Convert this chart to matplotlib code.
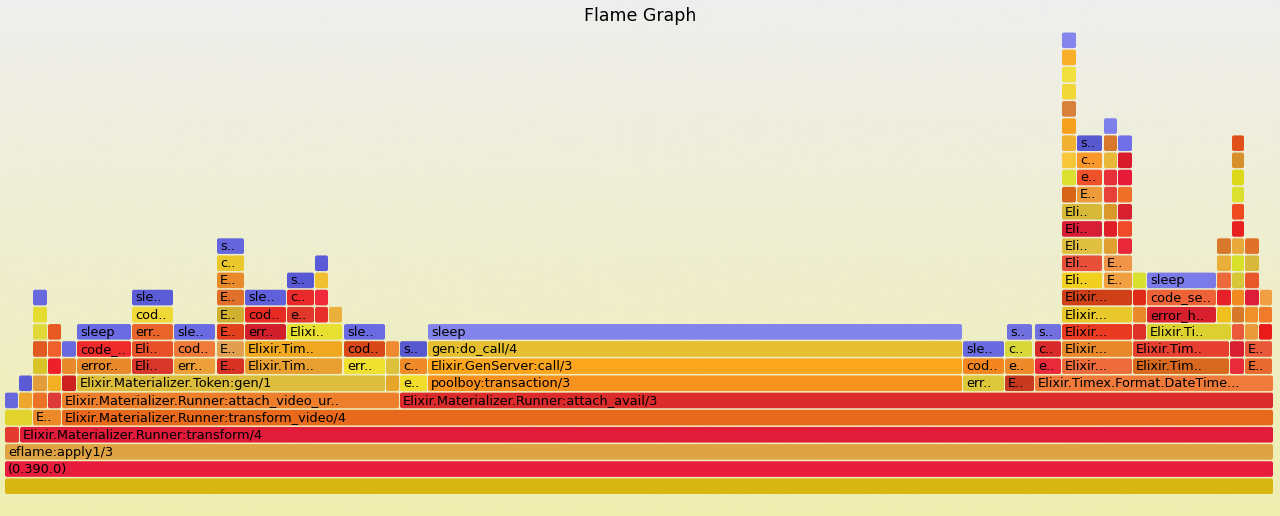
import numpy as np
import matplotlib.pyplot as plt
from matplotlib.patches import FancyBboxPatch
from matplotlib.colors import LinearSegmentedColormap

# stack frames per depth: (start sample, end sample, label as shown)
d00 = [(0, 1269, "")]
d01 = [(0, 1269, "(0.390.0)")]
d02 = [(0, 1269, "eflame:apply1/3")]
d03 = [(0, 15, ""), (15, 1269, "Elixir.Materializer.Runner:transform/4")]
d04 = [(0, 28, ""), (28, 57, "E.."), (57, 1269, "Elixir.Materializer.Runner:transform_video/4")]
d05 = [(0, 14, ""), (14, 28, ""), (28, 43, ""), (43, 57, ""),
       (57, 395, "Elixir.Materializer.Runner:attach_video_ur.."),
       (395, 1269, "Elixir.Materializer.Runner:attach_avail/3")]
d06 = [(14, 28, ""), (28, 43, ""), (43, 57, ""), (57, 72, ""),
       (72, 381, "Elixir.Materializer.Token:gen/1"), (381, 395, ""), (395, 423, "e.."),
       (423, 958, "poolboy:transaction/3"), (958, 1000, "err.."), (1000, 1030, "E.."),
       (1030, 1269, "Elixir.Timex.Format.DateTime...")]
d07 = [(28, 43, ""), (43, 57, ""), (57, 72, ""), (72, 127, "error.."), (127, 169, "Eli.."),
       (169, 211, "err.."), (212, 240, "E.."), (240, 338, "Elixir.Tim.."), (339, 381, "err.."),
       (381, 395, ""), (395, 423, "c.."), (423, 958, "Elixir.GenServer:call/3"),
       (958, 1000, "cod.."), (1000, 1030, "e.."), (1030, 1057, "e.."), (1057, 1128, "Elixir..."),
       (1128, 1225, "Elixir.Tim.."), (1225, 1240, ""), (1240, 1268, "E..")]
d08 = [(28, 43, ""), (43, 57, ""), (57, 72, ""), (72, 127, "code_.."), (127, 169, "Eli.."),
       (169, 211, "cod.."), (212, 240, "E.."), (240, 338, "Elixir.Tim.."), (339, 381, "cod.."),
       (381, 395, ""), (395, 423, "s.."), (423, 958, "gen:do_call/4"),
       (958, 1000, "sle.."), (1000, 1028, "c.."), (1030, 1057, "c.."), (1057, 1128, "Elixir..."),
       (1128, 1225, "Elixir.Tim.."), (1225, 1240, ""), (1240, 1268, "E..")]
d09 = [(28, 43, ""), (43, 57, ""), (72, 127, "sleep"), (127, 169, "err.."), (169, 211, "sle.."),
       (212, 240, "E.."), (240, 282, "err.."), (282, 338, "Elixi.."), (339, 381, "sle.."),
       (423, 958, "sleep"), (1002, 1028, "s.."), (1030, 1057, "s.."), (1057, 1128, "Elixir..."),
       (1128, 1142, ""), (1142, 1227, "Elixir.Ti.."), (1227, 1240, ""), (1240, 1254, ""),
       (1254, 1268, "")]
d10 = [(28, 43, ""), (127, 169, "cod.."), (212, 240, "E.."), (240, 282, "cod.."), (282, 310, "e.."),
       (310, 324, ""), (324, 338, ""), (1057, 1128, "Elixir..."), (1128, 1142, ""),
       (1142, 1212, "error_h.."), (1212, 1227, ""), (1227, 1240, ""), (1240, 1254, ""),
       (1254, 1268, "")]
d11 = [(28, 43, ""), (127, 169, "sle.."), (212, 240, "E.."), (240, 282, "sle.."), (282, 310, "c.."),
       (310, 324, ""), (1057, 1128, "Elixir..."), (1128, 1142, ""), (1142, 1212, "code_se.."),
       (1212, 1227, ""), (1227, 1240, ""), (1240, 1255, ""), (1255, 1268, "")]
d12 = [(212, 240, "E.."), (282, 310, "s.."), (310, 324, ""), (1057, 1098, "Eli.."), (1099, 1128, "E.."),
       (1128, 1142, ""), (1142, 1212, "sleep"), (1212, 1227, ""), (1227, 1240, ""), (1240, 1255, "")]
d13 = [(212, 240, "c.."), (310, 324, ""), (1057, 1098, "Eli.."), (1099, 1128, "E.."),
       (1212, 1227, ""), (1227, 1240, ""), (1240, 1255, "")]
d14 = [(212, 240, "s.."), (1057, 1098, "Eli.."), (1099, 1113, ""), (1113, 1128, ""),
       (1212, 1227, ""), (1227, 1240, ""), (1240, 1255, "")]
d15 = [(1057, 1098, "Eli.."), (1099, 1113, ""), (1113, 1128, ""), (1227, 1240, "")]
d16 = [(1057, 1098, "Eli.."), (1099, 1113, ""), (1113, 1128, ""), (1227, 1240, "")]
d17 = [(1057, 1072, ""), (1072, 1098, "E.."), (1099, 1113, ""), (1113, 1128, ""), (1227, 1240, "")]
d18 = [(1057, 1072, ""), (1072, 1098, "e.."), (1099, 1113, ""), (1113, 1128, ""), (1227, 1240, "")]
d19 = [(1057, 1072, ""), (1072, 1098, "c.."), (1099, 1113, ""), (1113, 1128, ""), (1227, 1240, "")]
d20 = [(1057, 1072, ""), (1072, 1098, "s.."), (1099, 1113, ""), (1113, 1128, ""), (1227, 1240, "")]
d21 = [(1057, 1072, ""), (1099, 1113, "")]
d22 = [(1057, 1072, "")]
d23 = [(1057, 1072, "")]
d24 = [(1057, 1072, "")]
d25 = [(1057, 1072, "")]
d26 = [(1057, 1072, "")]

# fill colour of each frame, same order as above
f00 = ["#d8b612"]
f01 = ["#e81c3c"]
f02 = ["#e0a343"]
f03 = ["#e43a30", "#e01c3a"]
f04 = ["#e2d42c", "#ec8a2a", "#e8691c"]
f05 = ["#6868dd", "#eea72c", "#ea7328", "#de3a3a", "#ed7f2c", "#dc2b2b"]
f06 = ["#5b5bd6", "#e39c3c", "#f4b022", "#cf2020", "#dcbe3c", "#e6a62a", "#f2dc2c",
       "#f7921f", "#dcc83a", "#c83a1f", "#f07a3a"]
f07 = ["#d8c428", "#f0202a", "#e8892c", "#e98a2a", "#d8362a", "#eda03a", "#d83224", "#e9a030",
       "#f0e030", "#dcc23a", "#f08a28", "#fba61c", "#f3861e", "#ef8a2a", "#e82a3a", "#ee6b3b",
       "#d8681e", "#e82a3a", "#e86a30"]
f08 = ["#e05a22", "#f0602e", "#6a6ae0", "#ee2a2a", "#e8502a", "#f07a3a", "#e0a050", "#f0a820",
       "#d84818", "#f08a30", "#5858d0", "#e6bf30", "#6a6ae0", "#d8d83a", "#d82a2a", "#e8882a",
       "#e84030", "#d81e30", "#e8583a"]
f09 = ["#e0d838", "#e85a22", "#6a6ae2", "#e8642a", "#6a6ae2", "#e0401c", "#d01e2a", "#e8e030",
       "#6a6ae2", "#8383ec", "#7070e0", "#7070e0", "#ea3a22", "#e0302a", "#dcd030", "#ea5a3a",
       "#ea9a3a", "#e81a1a"]
f10 = ["#e4dc30", "#f0d838", "#d0b030", "#e82a24", "#e0382a", "#e8302a", "#eab03a", "#e8c82a",
       "#e88a2a", "#d8202e", "#f0c020", "#d8782a", "#f0902a", "#ee7a2a"]
f11 = ["#6868de", "#5c5cd8", "#e0702a", "#6060dc", "#e82a2a", "#f02a3a", "#d04018", "#e02a1a",
       "#ee6238", "#e82028", "#f28a22", "#dc1e3a", "#f0a040"]
f12 = ["#e88a2a", "#5858d4", "#f0c030", "#f2d020", "#f0a040", "#d8e030", "#7a7ae8", "#ec6a3a",
       "#d8c838", "#e8582a"]
f13 = ["#e8c82a", "#5a5ad8", "#e8503a", "#ef9448", "#e8b03a", "#d8e02a", "#d8b83a"]
f14 = ["#6666dc", "#e0c040", "#e0a030", "#e8283a", "#d8782a", "#e8a83a", "#e0702a"]
f15 = ["#d81e36", "#e01e2a", "#f04a2a", "#e82020"]
f16 = ["#d8b838", "#d8982a", "#d82030", "#ee4a20"]
f17 = ["#d8641a", "#ec9a3a", "#e8403a", "#f0702a", "#dce030"]
f18 = ["#dce030", "#f0502a", "#e8303a", "#e81a3a", "#dcd81a"]
f19 = ["#f8c83a", "#f8982a", "#e8b838", "#d81a2a", "#d8902a"]
f20 = ["#f0b030", "#5858d0", "#d8782a", "#7070e8", "#e0501a"]
f21 = ["#f8a020", "#8080ec"]
f22 = ["#d8803a"]
f23 = ["#f0d838"]
f24 = ["#f0e040"]
f25 = ["#f8b02a"]
f26 = ["#8484ec"]

levels = [d00, d01, d02, d03, d04, d05, d06, d07, d08, d09, d10, d11, d12, d13,
          d14, d15, d16, d17, d18, d19, d20, d21, d22, d23, d24, d25, d26]
fills = [f00, f01, f02, f03, f04, f05, f06, f07, f08, f09, f10, f11, f12, f13,
         f14, f15, f16, f17, f18, f19, f20, f21, f22, f23, f24, f25, f26]

W, H = 1280, 516
row_px = 17.15
fig = plt.figure(figsize=(W / 100, H / 100), dpi=100)

# background gradient like flamegraph.pl
bg = fig.add_axes([0, 0, 1, 1])
bg_cmap = LinearSegmentedColormap.from_list("bg", ["#eeeeee", "#eeeeb0"])
bg.imshow(np.linspace(0, 1, 256).reshape(-1, 1), aspect="auto", cmap=bg_cmap,
          extent=[0, 1, 0, 1], origin="upper")
bg.axis("off")

ax = fig.add_axes([0, 0, 1, 1])
ax.set_facecolor("none")
ax.set_xlim(-5, W - 5)
ax.set_ylim(-22 / row_px, 494 / row_px)
ax.axis("off")

box_h = 15.6 / row_px
for depth, (frames, cols) in enumerate(zip(levels, fills)):
    for (x0, x1, name), col in zip(frames, cols):
        ax.add_patch(FancyBboxPatch((x0, depth), x1 - x0 - 1, box_h,
                                    boxstyle="round,pad=0,rounding_size=2",
                                    mutation_aspect=1 / row_px,
                                    facecolor=col, edgecolor="none"))
        if name:
            ax.text(x0 + 3, depth + box_h / 2 - 0.02, name, fontsize=9.3,
                    va="center", ha="left", color="#000000")

fig.text(0.5, 1 - 16 / H, "Flame Graph", ha="center", va="center", fontsize=12.5)

fig.savefig("out.png", dpi=100)
